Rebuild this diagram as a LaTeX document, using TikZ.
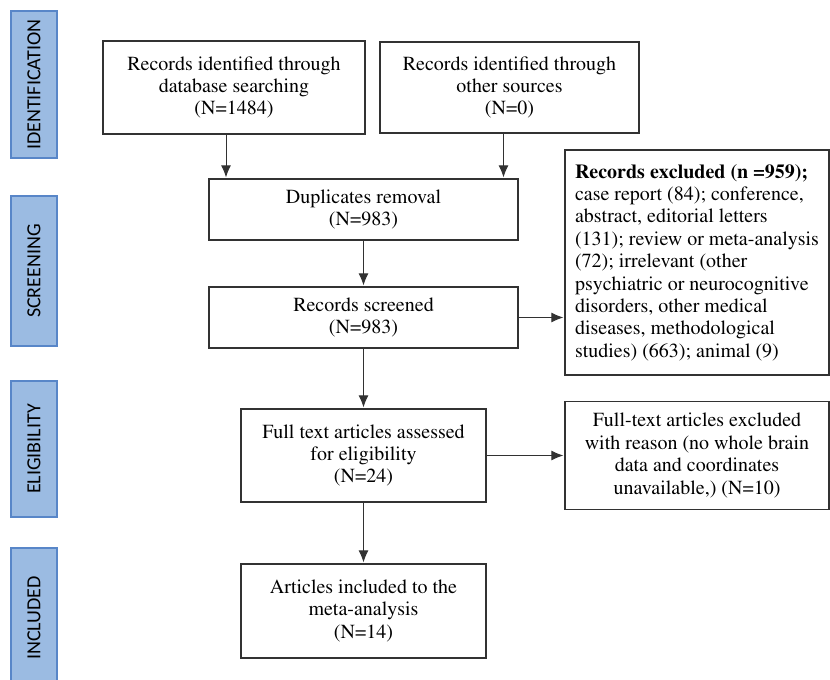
\documentclass[tikz,border=0pt]{standalone}
\usepackage[T1]{fontenc}
\usepackage{fontspec}
\newfontfamily\phasefont{Carlito}
\newcommand{\boxfont}{\fontencoding{T1}\fontfamily{ptm}\fontsize{20}{22.4}\selectfont}
\usepackage{tikz}
\usetikzlibrary{positioning}
\usetikzlibrary{arrows.meta}
\definecolor{phasefill}{RGB}{155,187,226}
\definecolor{phaseborder}{RGB}{88,134,200}
\definecolor{boxline}{RGB}{50,50,50}

\begin{document}
\begin{tikzpicture}[shorten >=1pt,node distance=100pt,on grid,auto,>={Latex[length=12pt,width=10pt]}]

      \tikzset{flowbox/.style={draw=boxline,line width=1.2pt,rectangle,align=center,inner sep=3pt,font=\boxfont}}
      \tikzset{phase/.style={draw=phaseborder,fill=phasefill,line width=1.2pt,rectangle,rotate=90,minimum height=46pt,inner sep=0pt,font=\phasefont\fontsize{20}{24}\selectfont}}
      \useasboundingbox (0pt,0pt) rectangle (830pt,-680pt);

      \node[phase,minimum width=147pt] (ident) at (34pt,-84.5pt) {IDENTIFICATION};
      \node[phase,minimum width=150pt] (scrn) [below = 186.5pt of ident] {SCREENING};
      \node[phase,minimum width=136pt] (elig) [below = 178pt of scrn] {ELIGIBILITY};
      \node[phase,minimum width=140pt] (incd) [below = 169pt of elig] {INCLUDED};

      \node[flowbox,minimum width=262pt,minimum height=93pt] (dbase) at (234pt,-87.5pt) {Records identified through\\database searching\\(N=1484)};
      \node[flowbox,minimum width=259pt,minimum height=91pt] (other) [right = 275.5pt of dbase] {Records identified through\\other sources\\(N=0)};
      \node[flowbox,minimum width=309pt,minimum height=61pt] (dup) [below right = 122pt and 129.5pt of dbase] {Duplicates removal\\(N=983)};
      \node[flowbox,minimum width=309pt,minimum height=61pt] (screen) [below = 108pt of dup] {Records screened\\(N=983)};
      \node[flowbox,align=left,minimum width=264pt,minimum height=225pt] (excl) [above right = 55pt and 333.5pt of screen] {\textbf{Records excluded (n =959);}\\case report (84); conference,\\abstract, editorial letters\\(131); review or meta-analysis\\(72); irrelevant (other\\psychiatric or neurocognitive\\disorders, other medical\\diseases, methodological\\studies) (663); animal (9)};
      \node[flowbox,minimum width=245pt,minimum height=93pt] (full) [below = 138pt of screen] {Full text articles assessed\\for eligibility\\(N=24)};
      \node[flowbox,minimum width=264pt,minimum height=108pt] (fullex) [right = 333.5pt of full] {Full-text articles excluded\\with reason (no whole brain\\data and coordinates\\unavailable,) (N=10)};
      \node[flowbox,minimum width=245pt,minimum height=94pt] (incl) [below = 155.5pt of full] {Articles included to the\\meta-analysis\\(N=14)};

      \coordinate (dbout) at ([xshift=-8pt]dbase.south);
      \coordinate (otherout) at ([xshift=-6pt]other.south);

      \path[->,boxline,line width=1pt]
      (dbout) edge (dbout |- dup.north)
      (otherout) edge (otherout |- dup.north)
      (dup) edge (screen)
      (screen.east) edge (screen.east -| excl.west)
      (screen) edge (full)
      (full) edge (fullex)
      (full) edge (incl)
      ;
    \end{tikzpicture}
\end{document}
